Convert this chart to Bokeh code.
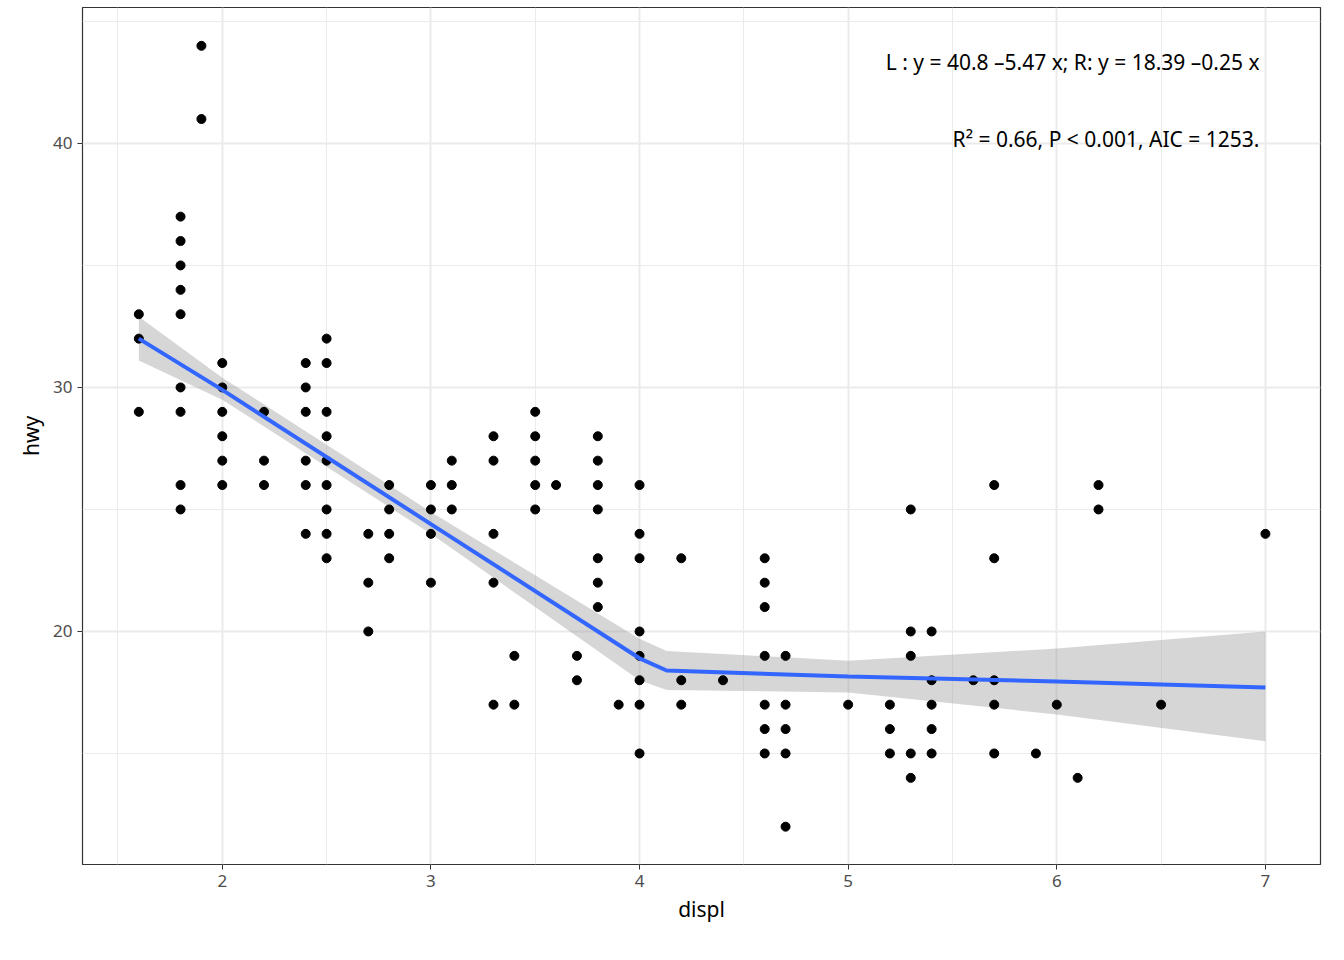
from bokeh.plotting import figure
from bokeh.models import Label, FixedTicker, Range1d
from bokeh.embed import file_html
from bokeh.resources import INLINE

displ = [1.6]*3+[1.8]*9+[1.9]*2+[2.0]*6+[2.2]*3+[2.4]*6+[2.5]*9+[2.7]*3+[2.8]*4+[3.0]*4+[3.1]*3+[3.3]*5+[3.4]*2+[3.5]*5+[3.6]+[3.7]*2+[3.8]*7+[3.9]+[4.0]*8+[4.2]*3+[4.4]+[4.6]*7+[4.7]*5+[5.0]+[5.2]*3+[5.3]*5+[5.4]*5+[5.6]+[5.7]*5+[5.9]+[6.0]+[6.1]+[6.2]*2+[6.5]+[7.0]
hwy = [33,32,29, 37,36,35,34,33,30,29,26,25, 44,41, 31,30,29,28,27,26, 29,27,26,
       31,30,29,27,26,24, 32,31,29,28,27,26,25,24,23, 24,22,20, 26,25,24,23, 26,25,24,22,
       27,26,25, 28,27,24,22,17, 19,17, 29,28,27,26,25, 26, 19,18, 28,27,26,25,23,22,21,
       17, 26,24,23,20,19,18,17,15, 23,18,17, 18, 23,22,21,19,17,16,15, 19,17,16,15,12,
       17, 17,16,15, 25,20,19,15,14, 20,18,17,16,15, 18, 26,23,18,17,15, 15, 17, 14, 26,25, 17, 24]

fit_x = [1.6, 2.0, 3.0, 4.0, 4.13, 5.0, 6.0, 7.0]
fit_y = [32.0, 29.9, 24.4, 18.9, 18.4, 18.15, 17.95, 17.7]
fit_lo = [31.1, 29.5, 24.0, 18.0, 17.6, 17.5, 16.6, 15.5]
fit_hi = [32.9, 30.4, 24.9, 19.7, 19.2, 18.8, 19.3, 20.0]

p = figure(width=1328, height=944, output_backend="svg", toolbar_location=None,
           x_range=Range1d(1.33, 7.264), y_range=Range1d(10.45, 45.57),
           min_border_left=82, min_border_right=8, min_border_top=7, min_border_bottom=80)
p.varea(x=fit_x, y1=fit_lo, y2=fit_hi, fill_color="#999999", fill_alpha=0.4)
p.scatter(displ, hwy, size=9, color="black")
p.line(fit_x, fit_y, line_color="#3366FF", line_width=4)

p.outline_line_color="#333333"; p.outline_line_width=1.2
p.background_fill_color="white"
p.xaxis.ticker = FixedTicker(ticks=[2,3,4,5,6,7], minor_ticks=[1.5,2.5,3.5,4.5,5.5,6.5])
p.yaxis.ticker = FixedTicker(ticks=[20,30,40], minor_ticks=[15,25,35,45])
for g in (p.xgrid, p.ygrid):
    g.grid_line_color="#EBEBEB"; g.grid_line_width=2
    g.minor_grid_line_color="#EBEBEB"; g.minor_grid_line_width=1
for a in (p.xaxis, p.yaxis):
    a.axis_line_color=None; a.minor_tick_line_color=None
    a.major_tick_line_color="#333333"; a.major_tick_out=5; a.major_tick_in=0
    a.major_label_text_color="#4D4D4D"; a.major_label_text_font_size="17px"
    a.major_label_text_font="Noto Sans"
    a.axis_label_text_font="Noto Sans"; a.axis_label_text_font_size="21px"
    a.axis_label_text_font_style="normal"; a.axis_label_text_color="black"
p.xaxis.axis_label="displ"; p.yaxis.axis_label="hwy"

for t, y in [("L : y = 40.8 \u20135.47 x; R: y = 18.39 \u20130.25 x", 803),
             ("R\u00b2 = 0.66, P < 0.001, AIC = 1253.", 726)]:
    p.add_layout(Label(x=1177, y=y, x_units="screen", y_units="screen", text=t,
                       text_align="right", text_baseline="middle", text_font="Noto Sans",
                       text_font_size="21px", text_color="black"))

open("out.html", "w").write(file_html(p, INLINE))
